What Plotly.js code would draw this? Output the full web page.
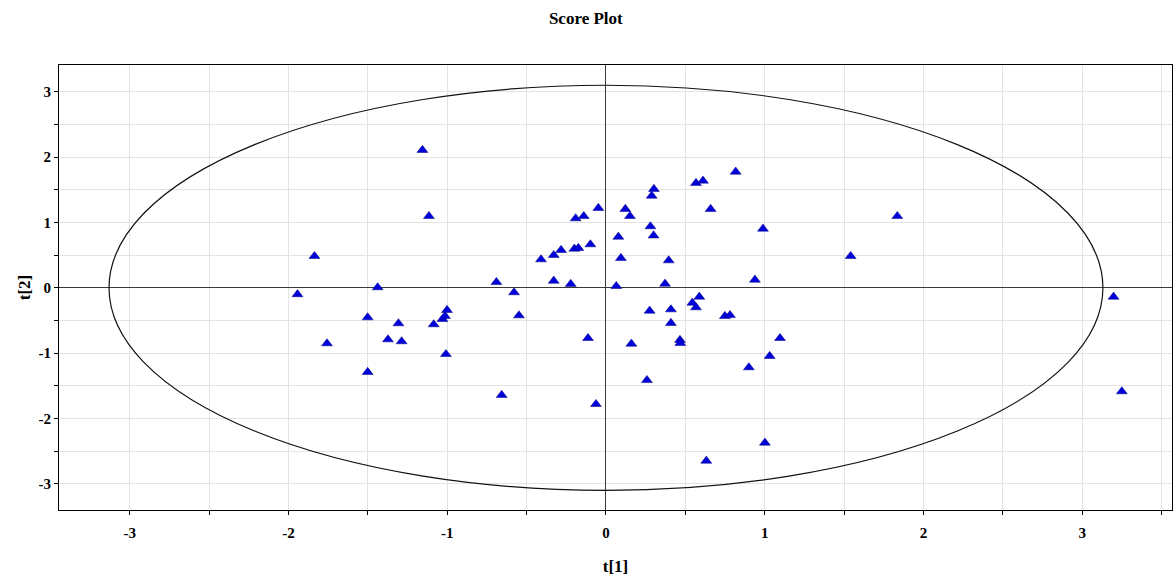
<!DOCTYPE html>
<html>
<head>
<meta charset="utf-8">
<script src="https://cdn.plot.ly/plotly-3.0.1.min.js"></script>
<style>html,body{margin:0;padding:0;background:#fff}#chart{width:1174px;height:579px}</style>
</head>
<body>
<div id="chart"></div>
<script>
// Score values t[1], t[2]
const t1 = [-1.156,-1.115,-1.836,-1.943,-1.438,-1.501,-1.757,-1.373,-1.307,-1.287,-1.501,-1.085,
  -1.030,-1.014,-1.001,-1.008,-0.690,-0.579,-0.548,-0.657,
  -0.409,-0.329,-0.283,-0.199,-0.174,-0.098,-0.191,-0.140,-0.048,-0.329,-0.222,-0.113,-0.063,
  0.065,0.122,0.151,0.078,0.094,0.280,0.300,0.288,0.302,0.395,0.372,
  0.160,0.258,0.275,0.409,0.409,0.466,0.468,0.544,0.588,0.567,
  0.567,0.611,0.817,0.659,0.749,0.781,0.989,0.938,
  1.096,1.031,0.900,1.001,0.632,1.835,1.541,3.197,3.249];
const t2 = [2.108,1.097,0.485,-0.100,0.006,-0.453,-0.851,-0.790,-0.545,-0.820,-1.290,-0.560,
  -0.479,-0.433,-0.341,-1.015,0.087,-0.070,-0.423,-1.642,
  0.434,0.500,0.577,0.597,0.608,0.664,1.062,1.097,1.220,0.107,0.057,-0.770,-1.780,
  0.026,1.205,1.097,0.780,0.455,0.940,0.800,1.408,1.511,0.419,0.061,
  -0.857,-1.413,-0.352,-0.331,-0.540,-0.800,-0.847,-0.230,-0.138,-0.300,
  1.603,1.638,1.776,1.205,-0.433,-0.418,0.903,0.122,
  -0.770,-1.045,-1.219,-2.372,-2.648,1.097,0.485,-0.138,-1.586];
// Tick values and labels (hyphen minus as in the original)
const tickVals = [-3, -2, -1, 0, 1, 2, 3];
const tickText = ['-3', '-2', '-1', '0', '1', '2', '3'];
// Hotelling T2 ellipse semi-axes
const ellipseA = 3.13;
const ellipseB = 3.10;
const xRange = [-3.445, 3.565];
const yRange = [-3.40, 3.41];

const serif = 'Liberation Serif, Times New Roman, serif';

const trace = {
  x: t1, y: t2, type: 'scatter', mode: 'markers',
  marker: {symbol: 'triangle-up', size: 9.5, color: '#0000d8', line: {width: 0.5, color: '#00008a'}},
  hoverinfo: 'x+y'
};

const axisCommon = {
  showline: true, linecolor: '#000', linewidth: 1, mirror: true,
  showgrid: true, gridcolor: '#e3e3e3', gridwidth: 1,
  zeroline: true, zerolinecolor: '#3a3a3a', zerolinewidth: 1,
  ticks: 'outside', ticklen: 4, tickcolor: '#000',
  tickmode: 'array', tickvals: tickVals, ticktext: tickText,
  minor: {dtick: 0.5, tick0: 0, ticks: 'outside', ticklen: 4, tickcolor: '#000', showgrid: true, gridcolor: '#e3e3e3'},
  tickfont: {family: serif, size: 15, color: '#000', weight: 'bold'},
  fixedrange: true
};

const layout = {
  width: 1174, height: 579,
  margin: {l: 59, r: 2, t: 65, b: 69},
  paper_bgcolor: '#fff', plot_bgcolor: '#fff',
  showlegend: false,
  title: {text: '<b>Score Plot</b>', font: {family: serif, size: 17, color: '#000'},
          x: 0.499, xref: 'container', y: 0.968, yref: 'container', yanchor: 'middle', xanchor: 'center'},
  xaxis: Object.assign({}, axisCommon, {
    range: xRange, ticklabelstandoff: 5,
    title: {text: '<b>t[1]</b>', font: {family: serif, size: 17, color: '#000'}, standoff: 20}
  }),
  yaxis: Object.assign({}, axisCommon, {
    range: yRange,
    title: {text: '<b>t[2]</b>', font: {family: serif, size: 17, color: '#000'}, standoff: 3}
  }),
  shapes: [{
    type: 'circle', xref: 'x', yref: 'y',
    x0: -ellipseA, x1: ellipseA, y0: -ellipseB, y1: ellipseB,
    line: {color: '#111', width: 1.2}, layer: 'between'
  }]
};

Plotly.newPlot('chart', [trace], layout, {displayModeBar: false, staticPlot: true});
</script>
</body>
</html>
